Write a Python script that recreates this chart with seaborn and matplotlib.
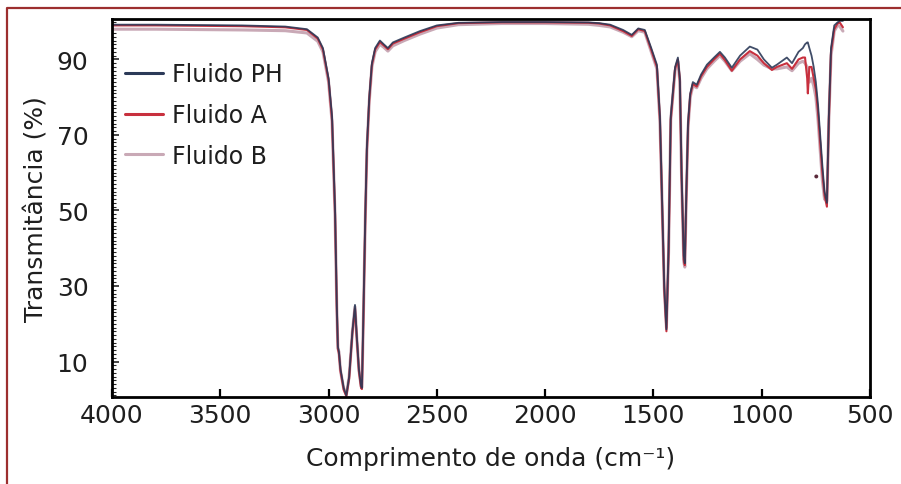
import matplotlib
matplotlib.use("Agg")
import matplotlib.pyplot as plt
from matplotlib.lines import Line2D
from matplotlib.ticker import MultipleLocator, FixedLocator
import seaborn as sns
import pandas as pd

# ---- data ----
wavenumber = [4000, 3800, 3600, 3400, 3200, 3100, 3050, 3026, 3000, 2984,
              2970, 2962, 2957, 2952, 2945, 2930, 2918, 2905, 2890, 2878,
              2870, 2860, 2850, 2846, 2840, 2830, 2823, 2812, 2800, 2785,
              2763, 2745, 2726, 2703, 2650, 2578, 2500, 2400, 2200, 2000,
              1800, 1750, 1700, 1640, 1600, 1570, 1540, 1510, 1484, 1470,
              1461, 1450, 1440, 1430, 1420, 1400, 1387, 1378, 1370, 1360,
              1355, 1348, 1340, 1330, 1318, 1300, 1280, 1253, 1220, 1193,
              1170, 1138, 1100, 1055, 1020, 990, 953, 930, 884, 860,
              830, 810, 800, 790, 787, 780, 770, 760, 750, 740,
              730, 720, 710, 699, 690, 680, 665, 650, 640, 625]

fluido_ph = [99.2, 99.2, 99.1, 99.0, 98.7, 98.0, 95.8, 93.0, 85.0, 75.0,
             50.0, 25.0, 14.0, 12.5, 8.0, 3.0, 1.0, 6.0, 18.0, 25.0,
             17.0, 8.0, 3.5, 3.0, 20.0, 50.0, 67.0, 80.0, 89.0, 93.0,
             95.0, 94.0, 93.0, 94.5, 95.8, 97.5, 99.0, 99.7, 99.9, 99.9,
             99.8, 99.6, 99.2, 97.8, 96.5, 98.2, 97.8, 93.0, 88.6, 75.0,
             55.0, 30.0, 18.5, 40.0, 75.0, 88.0, 90.5, 85.0, 60.0, 38.0,
             36.0, 55.0, 73.5, 81.0, 84.0, 83.3, 86.0, 88.6, 90.5, 92.0,
             90.5, 87.8, 91.0, 93.4, 92.6, 90.0, 87.8, 88.6, 90.5, 89.0,
             92.0, 93.0, 94.0, 94.5, 94.5, 93.0, 91.0, 88.0, 84.0, 78.0,
             70.0, 62.0, 55.0, 52.0, 75.0, 93.0, 99.0, 99.8, 100.2, 100.2]

fluido_a = [99.0, 99.0, 98.9, 98.8, 98.5, 97.8, 95.5, 92.6, 84.5, 74.0,
            49.0, 24.0, 13.5, 12.0, 7.5, 2.5, 0.8, 5.5, 17.5, 24.0,
            16.5, 7.5, 3.0, 2.7, 19.0, 49.0, 66.0, 79.5, 88.5, 92.6,
            94.6, 93.7, 92.7, 94.2, 95.5, 97.2, 98.8, 99.6, 99.8, 99.8,
            99.7, 99.5, 99.0, 97.5, 96.2, 98.0, 97.5, 92.5, 88.0, 74.0,
            54.0, 29.0, 18.0, 39.0, 74.0, 87.5, 90.0, 84.5, 59.0, 37.0,
            35.5, 54.0, 72.5, 80.5, 83.5, 82.8, 85.5, 88.0, 90.0, 91.5,
            89.8, 87.0, 90.0, 92.2, 91.0, 89.0, 87.2, 88.0, 89.0, 87.5,
            90.0, 90.5, 90.5, 85.0, 81.0, 88.0, 88.0, 85.0, 82.0, 76.0,
            68.0, 60.0, 54.0, 51.0, 74.0, 92.0, 98.0, 99.5, 99.8, 98.5]

fluido_b = [98.0, 98.0, 97.9, 97.8, 97.6, 97.0, 94.8, 92.0, 84.0, 73.5,
            48.5, 24.0, 13.5, 12.5, 7.5, 2.8, 1.2, 6.0, 18.0, 24.5,
            16.5, 7.8, 3.5, 3.2, 19.5, 49.0, 66.0, 79.0, 88.0, 92.0,
            94.0, 93.2, 92.2, 93.6, 95.0, 96.7, 98.3, 99.2, 99.5, 99.5,
            99.3, 99.0, 98.6, 97.2, 96.0, 97.6, 97.2, 92.0, 87.5, 73.5,
            54.0, 29.5, 19.0, 39.0, 74.0, 87.0, 89.5, 84.0, 58.5, 36.5,
            35.0, 54.0, 72.0, 80.0, 83.0, 82.5, 85.0, 87.5, 89.5, 91.0,
            89.5, 87.0, 89.5, 91.5, 90.0, 88.5, 87.5, 87.5, 88.0, 87.0,
            89.0, 89.5, 89.0, 88.0, 86.0, 84.0, 85.0, 83.0, 80.0, 74.0,
            66.0, 58.0, 53.0, 52.5, 74.0, 91.0, 97.5, 99.0, 98.8, 97.5]

series_names = ["Fluido PH", "Fluido A", "Fluido B"]
stray_x = [748]
stray_y = [59]

x_ticks = [4000, 3500, 3000, 2500, 2000, 1500, 1000, 500]
y_ticks = [10, 30, 50, 70, 90]

# ---- build long-form table ----
frames = []
for name, vals in zip(series_names, [fluido_ph, fluido_a, fluido_b]):
    frames.append(pd.DataFrame({"wn": wavenumber, "T": vals, "serie": name}))
df = pd.concat(frames, ignore_index=True)

sns.set_style("white")
plt.rcParams["font.family"] = ["DejaVu Sans"]

fig = plt.figure(figsize=(9.01, 4.85), dpi=100)
ax = fig.add_axes([112 / 901, 1 - 398 / 485, (870 - 112) / 901, (398 - 20) / 485])

palette = {"Fluido PH": "#2c3a58", "Fluido A": "#c8303e", "Fluido B": "#c9a9b6"}
widths = {"Fluido B": 2.2, "Fluido A": 1.5, "Fluido PH": 1.3}
for name in ["Fluido B", "Fluido A", "Fluido PH"]:
    sub = df[df["serie"] == name]
    sns.lineplot(data=sub, x="wn", y="T", color=palette[name], lw=widths[name],
                 estimator=None, sort=True, ax=ax, label=None, legend=False,
                 alpha=0.9 if name == "Fluido PH" else 1.0)

sns.scatterplot(x=stray_x, y=stray_y, color="#5a2a3a", s=8, ax=ax, legend=False,
                edgecolor="none")

ax.set_xlim(4000, 500)
ax.set_ylim(0.6, 100.7)
ax.xaxis.set_major_locator(FixedLocator(x_ticks))
ax.yaxis.set_major_locator(FixedLocator(y_ticks))
ax.yaxis.set_minor_locator(MultipleLocator(1))
ax.tick_params(axis="x", which="major", direction="in", length=6, width=1.6,
               labelsize=18, pad=4, bottom=True, top=False, colors="black",
               labelcolor="#1e1e1e")
ax.tick_params(axis="y", which="major", direction="in", length=5, width=1.2,
               labelsize=18, pad=17, left=True, right=False, labelcolor="#1e1e1e")
ax.tick_params(axis="y", which="minor", direction="in", length=3, width=0.8,
               left=True, right=False)
for s in ax.spines.values():
    s.set_linewidth(2.0)
    s.set_color("black")

ax.set_xlabel("Comprimento de onda (cm⁻¹)", fontsize=18, color="#1e1e1e", labelpad=14)
ax.set_ylabel("Transmitância (%)", fontsize=18, color="#1e1e1e", labelpad=6)

handles = [Line2D([0], [0], color=palette[n], lw=2.2) for n in series_names]
ax.legend(handles, series_names, loc="upper left", bbox_to_anchor=(0.017, 0.885),
          frameon=False, fontsize=17, handlelength=1.6, handletextpad=0.4,
          labelspacing=0.7, borderpad=0, borderaxespad=0, labelcolor="#1e1e1e")

# red frame of the page crop
fig.add_artist(Line2D([6.5 / 901, 6.5 / 901, 1.0], [0.0, 1 - 8.5 / 485, 1 - 8.5 / 485],
                      transform=fig.transFigure, color="#9c2f2f", lw=1.6))

fig.savefig("out.png", dpi=100)
